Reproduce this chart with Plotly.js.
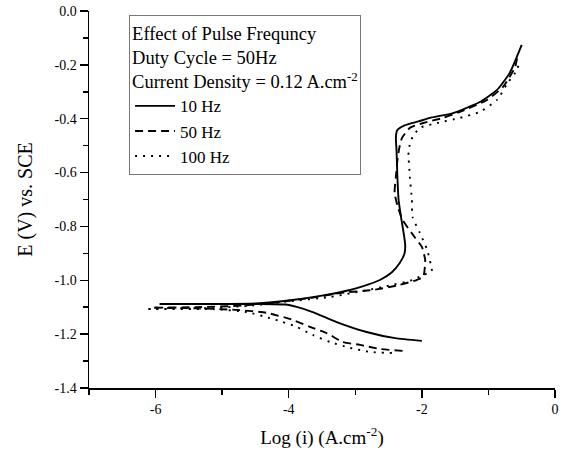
<!DOCTYPE html>
<html>
<head>
<meta charset="utf-8">
<script src="https://cdn.plot.ly/plotly-3.0.1.min.js"></script>
<style>html,body{margin:0;padding:0;background:#fff;}#chart{width:563px;height:452px;}</style>
</head>
<body>
<div id="chart"></div>
<script>
// 10 Hz (solid): cathodic branch from high current to Ecorr, then anodic branch
const hz10_x = [-2.0, -2.4, -2.83, -3.28, -3.64, -3.88, -4.05, -4.5, -5.2, -5.94,
                -5.2, -4.5, -3.94, -3.5, -3.08, -2.8, -2.63, -2.45, -2.33, -2.26, -2.25, -2.27, -2.31, -2.35, -2.37, -2.38, -2.39, -2.37, -2.26, -2.05, -1.88, -1.53, -1.13, -0.87, -0.68, -0.50];
const hz10_y = [-1.225, -1.215, -1.192, -1.155, -1.118, -1.099, -1.090, -1.088, -1.088, -1.088,
                -1.088, -1.086, -1.073, -1.057, -1.036, -1.015, -0.999, -0.970, -0.935, -0.900, -0.870, -0.830, -0.770, -0.700, -0.600, -0.520, -0.470, -0.443, -0.425, -0.410, -0.397, -0.379, -0.338, -0.293, -0.230, -0.126];
// 50 Hz (dashed)
const hz50_x = [-2.29, -2.63, -2.93, -3.19, -3.43, -3.68, -3.94, -4.33, -4.78, -5.4, -6.05,
                -5.4, -4.7, -4.2, -3.68, -3.23, -2.74, -2.33, -2.08, -1.98, -1.95, -2.0, -2.11, -2.29, -2.36, -2.41, -2.39, -2.37, -2.34, -2.30, -2.18, -1.98, -1.68, -1.43, -1.02, -0.78, -0.60, -0.56];
const hz50_y = [-1.262, -1.255, -1.240, -1.229, -1.196, -1.173, -1.147, -1.121, -1.110, -1.104, -1.102,
                -1.100, -1.094, -1.082, -1.066, -1.047, -1.036, -1.017, -0.999, -0.988, -0.925, -0.876, -0.839, -0.776, -0.728, -0.676, -0.616, -0.560, -0.510, -0.472, -0.434, -0.416, -0.397, -0.375, -0.330, -0.282, -0.208, -0.163];
// 100 Hz (dotted)
const hz100_x = [-2.45, -2.78, -3.08, -3.38, -3.64, -3.88, -4.09, -4.29, -4.63, -5.14, -6.15,
                 -5.3, -4.6, -4.0, -3.38, -2.59, -2.14, -1.98, -1.86, -1.85, -1.92, -2.03, -2.14, -2.15, -2.18, -2.20, -2.14, -2.03, -1.77, -1.43, -1.13, -0.87, -0.71, -0.57, -0.53];
const hz100_y = [-1.270, -1.266, -1.251, -1.229, -1.203, -1.173, -1.155, -1.140, -1.118, -1.107, -1.107,
                 -1.104, -1.095, -1.078, -1.062, -1.025, -0.999, -0.980, -0.969, -0.962, -0.887, -0.824, -0.765, -0.700, -0.616, -0.516, -0.468, -0.434, -0.416, -0.397, -0.375, -0.330, -0.267, -0.219, -0.182];

const seriesNames = ["10 Hz", "50 Hz", "100 Hz"];
const xTickVals = [-6, -4, -2, 0];
const xTickText = ["-6", "-4", "-2", "0"];
const yTickVals = [0, -0.2, -0.4, -0.6, -0.8, -1.0, -1.2, -1.4];
const yTickText = ["0.0", "-0.2", "-0.4", "-0.6", "-0.8", "-1.0", "-1.2", "-1.4"];
const legendTitle = "Effect of Pulse Frequncy<br>Duty Cycle = 50Hz<br>Current Density = 0.12 A.cm<sup>-2</sup>";

const font = "Liberation Serif";
const sm = 0.5;
const traces = [
  {x: hz10_x, y: hz10_y, name: seriesNames[0], mode: "lines", line: {color: "#000", width: 1.9, dash: "solid", shape: "spline", smoothing: sm}},
  {x: hz50_x, y: hz50_y, name: seriesNames[1], mode: "lines", line: {color: "#000", width: 1.9, dash: "8px,5px", shape: "spline", smoothing: sm}},
  {x: hz100_x, y: hz100_y, name: seriesNames[2], mode: "lines", line: {color: "#000", width: 1.9, dash: "2px,6px", shape: "spline", smoothing: sm}}
];
const axisCommon = {
  showline: true, linecolor: "#000", linewidth: 1.5, showgrid: false, zeroline: false,
  ticks: "outside", ticklen: 8, tickwidth: 1.5, tickcolor: "#000", mirror: false,
  tickfont: {family: font, size: 14, color: "#000"}
};
const layout = {
  width: 563, height: 452,
  margin: {l: 89, r: 8, t: 11, b: 64},
  paper_bgcolor: "#fff", plot_bgcolor: "#fff",
  font: {family: font, color: "#000"},
  xaxis: Object.assign({}, axisCommon, {
    range: [-7, 0], tickmode: "array", tickvals: xTickVals, ticktext: xTickText,
    minor: {dtick: 1, tick0: 0, ticks: "outside", ticklen: 5, tickwidth: 1.5, tickcolor: "#000"},
    title: {text: "Log (i) (A.cm<sup>-2</sup>)", font: {family: font, size: 19, color: "#000"}, standoff: 14}
  }),
  yaxis: Object.assign({}, axisCommon, {
    range: [-1.4, 0], tickmode: "array", tickvals: yTickVals, ticktext: yTickText,
    minor: {dtick: 0.1, tick0: 0, ticks: "outside", ticklen: 5, tickwidth: 1.5, tickcolor: "#000"},
    title: {text: "E (V) vs. SCE", font: {family: font, size: 20, color: "#000"}, standoff: 16}
  }),
  showlegend: true,
  legend: {
    x: 0.086, y: 0.989, xanchor: "left", yanchor: "top",
    bgcolor: "#fff", bordercolor: "#777", borderwidth: 1,
    font: {family: font, size: 17, color: "#000"},
    title: {text: legendTitle, side: "top", font: {family: font, size: 18.5, color: "#000"}},
    itemwidth: 40, tracegroupgap: 0
  }
};
Plotly.newPlot("chart", traces, layout, {displayModeBar: false, staticPlot: true});
</script>
</body>
</html>
